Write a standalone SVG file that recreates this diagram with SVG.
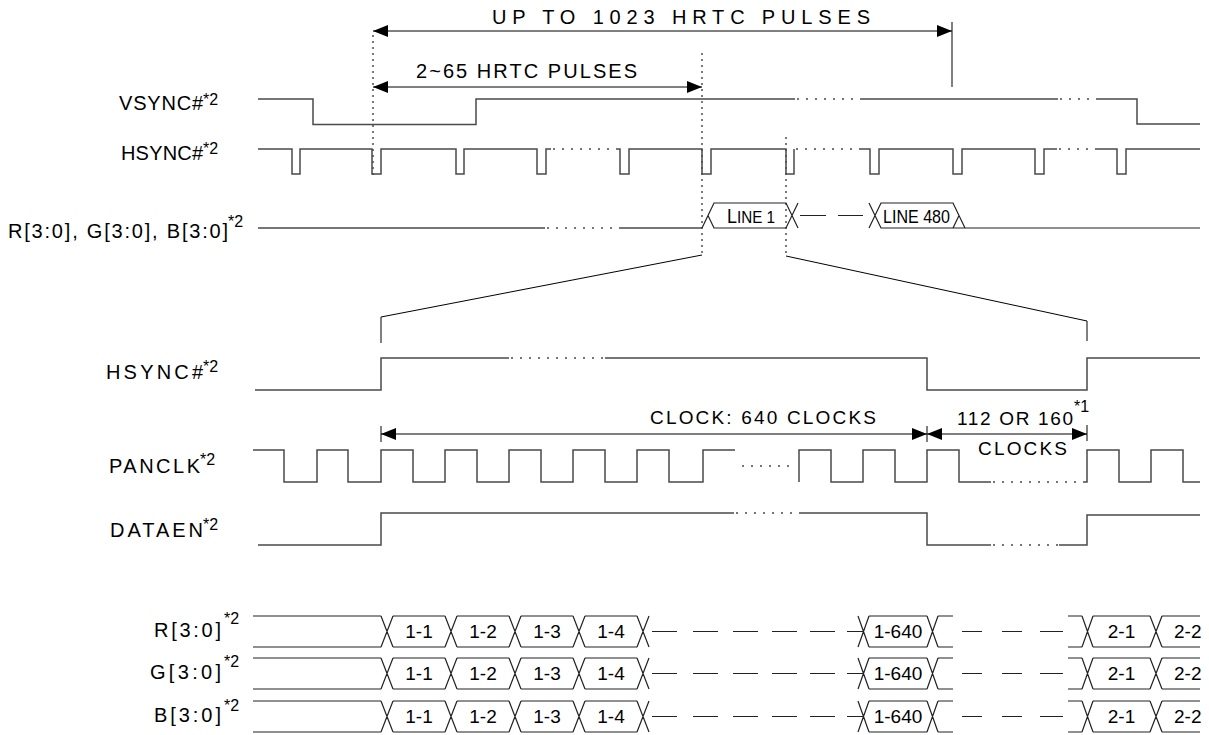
<svg xmlns="http://www.w3.org/2000/svg" xmlns:xlink="http://www.w3.org/1999/xlink" width="1209" height="735" viewBox="0 0 1209 735">
<style>
.t{font-family:"Liberation Sans",Arial,sans-serif;fill:#000;font-size:20px}
.c{font-family:"Liberation Sans",Arial,sans-serif;fill:#000;font-size:19px}
.s{font-family:"Liberation Sans",Arial,sans-serif;fill:#000;font-size:16px}
.d{font-family:"Liberation Sans",Arial,sans-serif;fill:#000;font-size:19px;text-anchor:middle}
.d2{font-family:"Liberation Sans",Arial,sans-serif;fill:#000;font-size:19px}
.w{fill:none;stroke:#4a4a4a;stroke-width:1.5}
.b{fill:none;stroke:#222;stroke-width:1.2}
.dot{fill:none;stroke:#4a4a4a;stroke-width:1.5;stroke-dasharray:2 7}
.vd{fill:none;stroke:#222;stroke-width:1.2;stroke-dasharray:2 4}
.ln{fill:none;stroke:#000;stroke-width:1}
.ar{fill:none;stroke:#000;stroke-width:1;marker-start:url(#ah);marker-end:url(#ah)}
</style>
<defs>
<marker id="ah" viewBox="0 0 15 12" refX="15" refY="6" markerWidth="15" markerHeight="12" markerUnits="userSpaceOnUse" orient="auto-start-reverse"><path d="M0,0 L15,6 L0,12 z" fill="#000"/></marker>
<path id="bus" class="b" d="M253,0 H381 M253,31 H381 M381,0 L393,31 M381,31 L393,0 M393,0 H445 M393,31 H445 M445,0 L457,31 M445,31 L457,0 M457,0 H509 M457,31 H509 M509,0 L521,31 M509,31 L521,0 M521,0 H573 M521,31 H573 M573,0 L585,31 M573,31 L585,0 M585,0 H637 M585,31 H637 M637,0 L649,31 M637,31 L649,0 M652,15.5 H677 M693,15.5 H718 M733,15.5 H758 M772,15.5 H797 M810,15.5 H835 M847,15.5 H863 M858,0 L869,31 M858,31 L869,0 M869,0 H927 M869,31 H927 M927,0 L938,31 M927,31 L938,0 M938,0 H953 M938,31 H953 M962,15.5 H982 M1002,15.5 H1022 M1040,15.5 H1063 M1068,0 H1082 M1068,31 H1082 M1082,0 L1093,31 M1082,31 L1093,0 M1093,0 H1150 M1093,31 H1150 M1150,0 L1162,31 M1150,31 L1162,0 M1162,0 H1200 M1162,31 H1200"/>
</defs>
<rect width="1209" height="735" fill="#fff"/>

<g id="connectors">
<line class="ar" x1="373" y1="31" x2="952" y2="31"/>
<line class="ln" x1="952" y1="22" x2="952" y2="87"/>
<text class="t" x="492" y="24" textLength="378">UP TO 1023 HRTC PULSES</text>
<line class="ar" x1="373" y1="87" x2="702" y2="87"/>
<text class="t" x="416" y="78" textLength="221">2~65 HRTC PULSES</text>
<line class="vd" x1="373" y1="35" x2="373" y2="176"/>
<line class="vd" x1="702" y1="53" x2="702" y2="255"/>
<line class="vd" x1="786" y1="137" x2="786" y2="256"/>
<path class="ln" d="M702,255 L381,317 V343 M786,256 L1087,321 V341"/>
<line class="ar" x1="381" y1="434" x2="927" y2="434"/>
<line class="ar" x1="927" y1="434" x2="1087" y2="434"/>
<path class="ln" d="M381,426 V442 M927,426 V442 M1087,425 V441"/>
<text class="c" x="650" y="424" textLength="226">CLOCK: 640 CLOCKS</text>
<text class="c" x="957" y="425" textLength="116">112 OR 160</text>
<text class="s" x="1074" y="412">*1</text>
<text class="c" x="978" y="455" textLength="89">CLOCKS</text>
</g>

<g id="vsync">
<text class="t" x="119" y="110" textLength="84">VSYNC#</text><text class="s" x="203" y="105">*2</text>
<path class="w" d="M258,99 H313 V124.5 H476 V99 H795 M862,99 H1058 M1097,99 H1137 V124 H1200"/>
<path class="dot" d="M797,99 H862 M1060,99 H1097"/>
</g>

<g id="hsync-top">
<text class="t" x="121" y="160" textLength="82">HSYNC#</text><text class="s" x="203" y="154">*2</text>
<path class="w" d="M258,149 H292 V174 H300 V149 H372 V174 H381 V149 H456 V174 H464 V149 H537 V174 H546 V149 H551 M618,149 H620 V174 H629 V149 H702 V174 H711 V149 H786 V174 H794 V149 M860,149 H870 V174 H879 V149 H953 V174 H962 V149 H1035 V174 H1044 V149 H1057 M1097,149 H1117 V174 H1126 V149 H1200"/>
<path class="dot" d="M553,149 H618 M796,149 H860 M1059,149 H1097"/>
</g>

<g id="rgb-top">
<text class="t" x="8" y="238" textLength="220">R[3:0], G[3:0], B[3:0]</text><text class="s" x="228" y="227">*2</text>
<path class="w" d="M258,228 H545 M620,228 H702"/>
<path class="dot" d="M547,228 H620"/>
<path class="b" d="M702,228 L714,203 H786 L798,228 M708,215.5 L714,228 H786 L798,203 M800,215.5 H826 M838,215.5 H863 M869,203 L881,228 H953 L965,228 H1200 M869,228 L881,203 H953 L965,228 M953,228 L959,215.5"/>
<text x="727" y="223" font-family="Liberation Sans, Arial, sans-serif" textLength="48" lengthAdjust="spacingAndGlyphs"><tspan font-size="20">L</tspan><tspan font-size="17">INE 1</tspan></text>
<text x="883" y="223" font-family="Liberation Sans, Arial, sans-serif" font-size="19" textLength="67" lengthAdjust="spacingAndGlyphs">LINE 480</text>
</g>

<g id="hsync-bottom">
<text class="t" x="106" y="379" textLength="97">HSYNC#</text><text class="s" x="203" y="372">*2</text>
<path class="w" d="M255,390 H381 V358 H509 M605,358 H927 V390 H1087 V358 H1200"/>
<path class="dot" d="M511,358 H605"/>
</g>

<g id="panclk">
<text class="t" x="109" y="473" textLength="91">PANCLK</text><text class="s" x="200" y="465">*2</text>
<path class="w" d="M253,450 H284 V482 H317 V450 H348 V482 H381 V450 H413 V482 H445 V450 H477 V482 H509 V450 H541 V482 H573 V450 H605 V482 H637 V450 H669 V482 H703 V450 H735 M799,482 V450 H831 V482 H863 V450 H895 V482 H927 V450 H959 V482 H991 M1084,482 H1087 V450 H1119 V482 H1151 V450 H1183 V482 H1200"/>
<path class="dot" d="M742,466 H790 M993,482 H1084"/>
</g>

<g id="dataen">
<text class="t" x="110" y="537" textLength="93">DATAEN</text><text class="s" x="203" y="530">*2</text>
<path class="w" d="M258,545 H381 V513 H734 M799,513 H927 V545 H991 M1059,545 H1087 V515 H1200"/>
<path class="dot" d="M736,513 H797 M993,545 H1059"/>
</g>

<g id="r-data">
<text class="t" x="154" y="637" textLength="67">R[3:0]</text><text class="s" x="224" y="624">*2</text>
<use xlink:href="#bus" href="#bus" y="616"/>
<text class="d" x="419" y="638">1-1</text><text class="d" x="483" y="638">1-2</text><text class="d" x="547" y="638">1-3</text><text class="d" x="611" y="638">1-4</text><text class="d" x="898" y="638">1-640</text><text class="d" x="1121.5" y="638">2-1</text><text class="d2" x="1174" y="638">2-2</text>
</g>

<g id="g-data">
<text class="t" x="150" y="679" textLength="71">G[3:0]</text><text class="s" x="224" y="667">*2</text>
<use xlink:href="#bus" href="#bus" y="658"/>
<text class="d" x="419" y="680">1-1</text><text class="d" x="483" y="680">1-2</text><text class="d" x="547" y="680">1-3</text><text class="d" x="611" y="680">1-4</text><text class="d" x="898" y="680">1-640</text><text class="d" x="1121.5" y="680">2-1</text><text class="d2" x="1174" y="680">2-2</text>
</g>

<g id="b-data">
<text class="t" x="154" y="722" textLength="67">B[3:0]</text><text class="s" x="224" y="711">*2</text>
<use xlink:href="#bus" href="#bus" y="701"/>
<text class="d" x="419" y="723">1-1</text><text class="d" x="483" y="723">1-2</text><text class="d" x="547" y="723">1-3</text><text class="d" x="611" y="723">1-4</text><text class="d" x="898" y="723">1-640</text><text class="d" x="1121.5" y="723">2-1</text><text class="d2" x="1174" y="723">2-2</text>
</g>
</svg>
